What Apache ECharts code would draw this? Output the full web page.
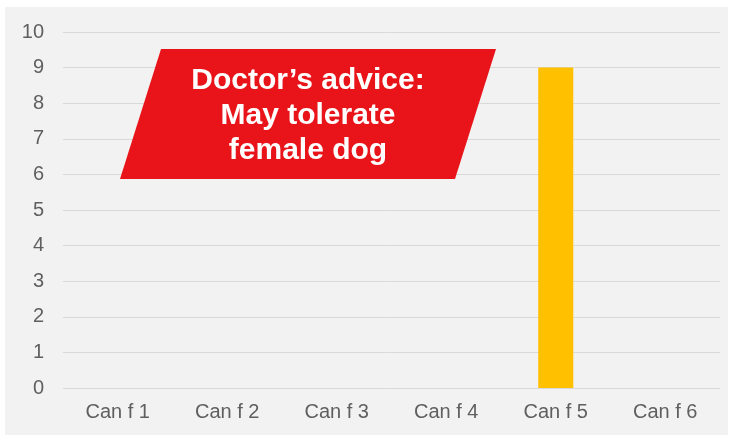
<!DOCTYPE html>
<html><head><meta charset="utf-8">
<script src="https://cdn.jsdelivr.net/npm/echarts@6/dist/echarts.min.js"></script>
<style>html,body{margin:0;padding:0;background:#fff;}#c{width:733px;height:441px;}</style>
</head><body><div id="c"></div>
<script>
const categories = ['Can f 1','Can f 2','Can f 3','Can f 4','Can f 5','Can f 6'];
const values = [0, 0, 0, 0, 9, 0];
const yTicks = [0,1,2,3,4,5,6,7,8,9,10];
const calloutLines = ['Doctor\u2019s advice:', 'May tolerate', 'female dog'];

const chart = echarts.init(document.getElementById('c'));
chart.setOption({
  animation: false,
  backgroundColor: '#ffffff',
  textStyle: {fontFamily: 'Liberation Sans, Arial, sans-serif'},
  graphic: [
    {type:'rect', z:-10, shape:{x:5,y:7,width:723,height:428}, style:{fill:'#f2f2f2'}},
    {type:'polygon', z:100, shape:{points:[[161,49],[496,49],[455,179],[120,179]]}, style:{fill:'#e8141a'}},
    {type:'text', z:101, style:{
      x:308, y:116, text: calloutLines.join('\n'), fill:'#ffffff',
      font:'bold 30px "Liberation Sans", Arial, sans-serif',
      align:'center', verticalAlign:'middle', lineHeight:35
    }}
  ],
  grid: {left:63, right:13, top:32, bottom:53, containLabel:false},
  xAxis: {
    type:'category', data: categories,
    axisLine:{show:false}, axisTick:{show:false},
    axisLabel:{color:'#5f5f5f', fontSize:20, margin:14}
  },
  yAxis: {
    type:'value', min:0, max:10, interval:1,
    axisLine:{show:false}, axisTick:{show:false},
    splitLine:{lineStyle:{color:'#d9d9d9', width:1}},
    axisLabel:{color:'#5f5f5f', fontSize:20, margin:19,
      formatter: v => yTicks.includes(v) ? String(v) : ''}
  },
  series: [{
    type:'bar', data: values, barWidth:'32%',
    itemStyle:{color:'#ffc000'}
  }]
});
</script></body></html>
